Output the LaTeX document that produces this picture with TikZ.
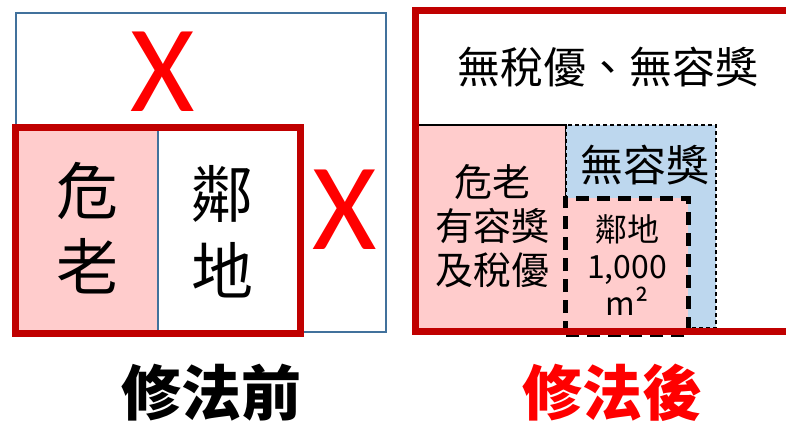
\documentclass[tikz,border=0pt]{standalone}
\usepackage{fontspec}
\setmainfont{Noto Sans CJK TC}
\newfontfamily\xfont{Carlito}
\definecolor{pinkfill}{HTML}{FFCCCC}
\definecolor{bluefill}{HTML}{BDD7EE}
\definecolor{blueline}{HTML}{41719C}
\definecolor{darkred}{HTML}{C00000}
\definecolor{brightred}{HTML}{FF0000}
\tikzset{
  redframe/.style={draw=darkred, line width=7pt},
  bigchar/.style={inner sep=0pt, font=\fontsize{62}{62}\selectfont},
  crossmark/.style={inner sep=0pt, text=brightred, font=\xfont\fontsize{124}{124}\selectfont},
  titletext/.style={inner sep=0pt, font=\bfseries\fontsize{60}{60}\selectfont},
  midtext/.style={inner sep=0pt, font=\fontsize{43}{43}\selectfont},
}
\begin{document}
\begin{tikzpicture}[x=1pt,y=-1pt]
\useasboundingbox (0,0) rectangle (786,422);
% ---------- left: before ----------
\draw[blueline, line width=1.4pt] (16,13) rectangle (386,332);
\fill[pinkfill] (15.5,127.5) rectangle (158,333.5);
\draw[blueline, line width=1.4pt] (158,127.5) -- (158,333.5);
\draw[redframe] (15.5,127.5) rectangle (300.5,333.5);
\node[crossmark] (xtop) at (163,72) {X};
\node[crossmark] (xright) at (345,210) {X};
\node[bigchar] (wei) at (87,191) {危};
\node[bigchar] (lao) at (87,266) {老};
\node[bigchar] (xiang) at (222,194) {鄰};
\node[bigchar] (di) at (222,270) {地};
\node[titletext] (before) at (211,393) {修法前};
% ---------- right: after ----------
\draw[black, line width=1.2pt, fill=pinkfill] (415.5,125) rectangle (566,331);
\draw[black, line width=1.2pt, dash pattern=on 4pt off 3pt, fill=bluefill] (566,125) rectangle (716,328);
\fill[pinkfill] (565,198) rectangle (688,331);
\draw[black, line width=5pt, dash pattern=on 13pt off 8pt] (565,334) -- (565,198) -- (688,198) -- (688,334) -- cycle;
\draw[redframe] (786,10.5) -- (415.5,10.5) -- (415.5,331.5) -- (786,331.5);
\node[midtext] (top) at (608,67) {無稅優、無容獎};
\node[midtext] (norong) at (645,165) {無容獎};
\node[inner sep=0pt, align=center, font=\fontsize{38}{44}\selectfont] (leftlbl) at (492,226) {危老\\有容獎\\及稅優};
\node[inner sep=0pt, align=center, font=\fontsize{32}{37}\selectfont] (land) at (627,265) {鄰地\\1,000\\m²};
\node[titletext, text=brightred] (after) at (612,393) {修法後};
\end{tikzpicture}
\end{document}
